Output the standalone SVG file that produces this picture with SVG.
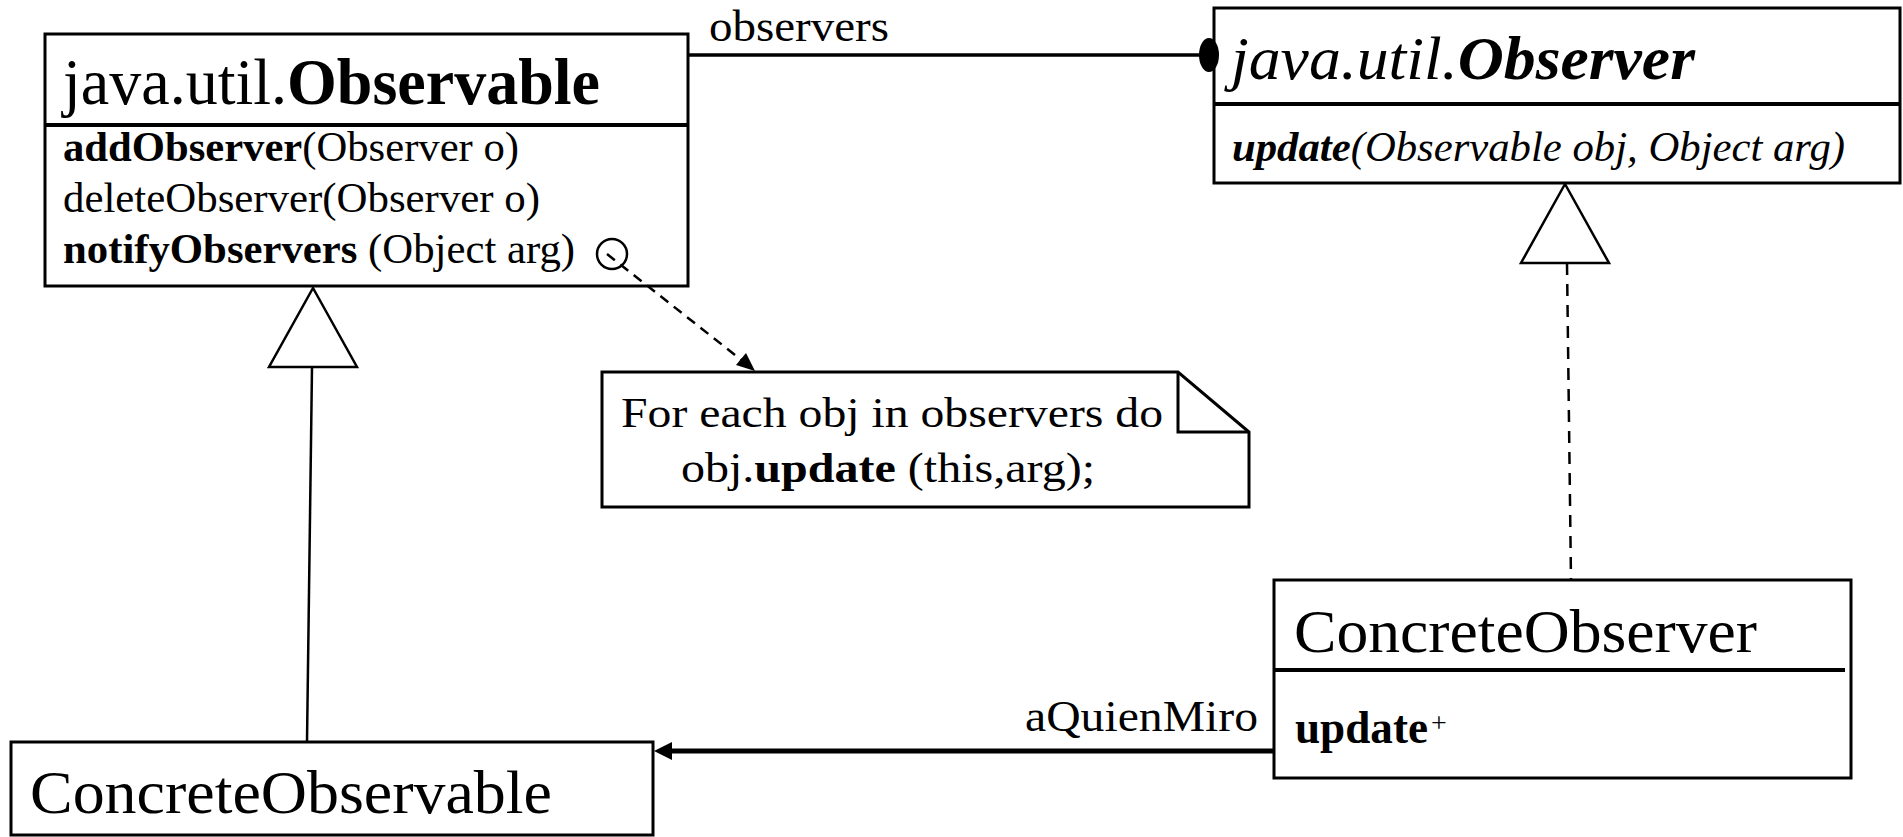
<svg xmlns="http://www.w3.org/2000/svg" width="1903" height="837" viewBox="0 0 1903 837">
<defs>
<style>
.box{fill:#fff;stroke:#000;stroke-width:3}
.div{stroke:#000;stroke-width:4}
.ln{fill:none;stroke:#000}
.tri{fill:#fff;stroke:#000;stroke-width:2.5}
.b{font-weight:bold}
.i{font-style:italic}
</style>
</defs>
<rect x="0" y="0" width="1903" height="837" fill="#fff"/>
<g font-family="'Liberation Serif', 'Times New Roman', Times, serif" fill="#000">

<g id="observable">
<rect class="box" x="45" y="34" width="643" height="252"/>
<line class="div" x1="45" y1="125" x2="688" y2="125"/>
<text x="63" y="104" font-size="65" textLength="537" lengthAdjust="spacingAndGlyphs">java.util.<tspan class="b">Observable</tspan></text>
<text x="63" y="161" font-size="42" textLength="456" lengthAdjust="spacingAndGlyphs"><tspan class="b">addObserver</tspan>(Observer o)</text>
<text x="63" y="212" font-size="42" textLength="477" lengthAdjust="spacingAndGlyphs">deleteObserver(Observer o)</text>
<text x="63" y="263" font-size="42" textLength="512" lengthAdjust="spacingAndGlyphs"><tspan class="b">notifyObservers</tspan> (Object arg)</text>
<circle cx="612" cy="254" r="15" fill="none" stroke="#000" stroke-width="2.5"/>
</g>

<g id="observer">
<rect class="box" x="1214" y="8" width="686" height="175"/>
<line class="div" x1="1214" y1="104" x2="1900" y2="104"/>
<text x="1231" y="79" font-size="62" class="i" textLength="464" lengthAdjust="spacingAndGlyphs">java.util.<tspan class="b">Observer</tspan></text>
<text x="1232" y="161" font-size="42" class="i" textLength="613" lengthAdjust="spacingAndGlyphs"><tspan class="b">update</tspan>(Observable obj, Object arg)</text>
</g>

<g id="note">
<path class="box" d="M602,372 H1178 L1249,432 V507 H602 Z"/>
<path class="ln" d="M1178,372 V432 H1249" style="stroke-width:3"/>
<text x="621" y="427" font-size="43" textLength="542" lengthAdjust="spacingAndGlyphs">For each obj in observers do</text>
<text x="681" y="482" font-size="43" textLength="414" lengthAdjust="spacingAndGlyphs">obj.<tspan class="b">update</tspan> (this,arg);</text>
</g>

<g id="concreteObserver">
<rect class="box" x="1274" y="580" width="577" height="198"/>
<line class="div" x1="1274" y1="670" x2="1845" y2="670"/>
<text x="1294" y="652" font-size="62" textLength="463" lengthAdjust="spacingAndGlyphs">ConcreteObserver</text>
<text x="1295" y="743" font-size="46" class="b" textLength="133" lengthAdjust="spacingAndGlyphs">update</text>
<text x="1431" y="732" font-size="28">+</text>
</g>

<g id="concreteObservable">
<rect class="box" x="11" y="742" width="642" height="93"/>
<text x="30" y="813" font-size="62" textLength="522" lengthAdjust="spacingAndGlyphs">ConcreteObservable</text>
</g>

<g id="connectors">
<line class="ln" x1="688" y1="55" x2="1205" y2="55" style="stroke-width:3.5"/>
<ellipse cx="1209" cy="55" rx="10" ry="17" fill="#000"/>
<line class="ln" x1="312" y1="367" x2="307" y2="742" style="stroke-width:2.5"/>
<polygon class="tri" points="313,288 357,367 269,367"/>
<line class="ln" x1="1567" y1="263" x2="1571" y2="580" style="stroke-width:2.5" stroke-dasharray="12,9"/>
<polygon class="tri" points="1565,184 1609,263 1521,263"/>
<line class="ln" x1="607" y1="254" x2="744" y2="362" style="stroke-width:2.5" stroke-dasharray="10,7"/>
<polygon points="755,371 736,365 746,353" fill="#000"/>
<line class="ln" x1="1274" y1="751" x2="668" y2="751" style="stroke-width:5"/>
<polygon points="654,751 672,742 672,760" fill="#000"/>
<text x="709" y="41" font-size="44" textLength="180" lengthAdjust="spacingAndGlyphs">observers</text>
<text x="1025" y="731" font-size="44" textLength="233" lengthAdjust="spacingAndGlyphs">aQuienMiro</text>
</g>
</g>
</svg>
